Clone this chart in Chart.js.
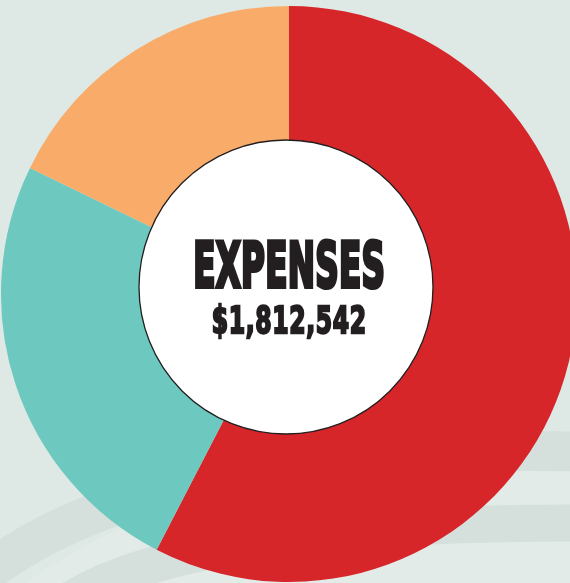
<!DOCTYPE html>
<html>
<head>
<meta charset="utf-8">
<script src="https://cdn.jsdelivr.net/npm/chart.js@4.4.1/dist/chart.umd.min.js"></script>
<style>
  html, body { margin: 0; padding: 0; width: 570px; height: 583px; overflow: hidden; background: #dee8e5; }
  #wrap { position: absolute; left: 0; top: 0; width: 580px; height: 583px; }
</style>
</head>
<body>
<div id="wrap"><canvas id="c"></canvas></div>
<script>
// Data (share of total expenses, %)
const categories = ['Segment A', 'Segment B', 'Segment C'];
const shares = [57.6, 24.6, 17.8];
const colors = ['#d7262a', '#6dc9bf', '#f9ac6a'];
const titleText = 'EXPENSES';
const totalText = '$1,812,542';

const bgPlugin = {
  id: 'bg',
  beforeDraw(chart) {
    const ctx = chart.ctx;
    ctx.save();
    ctx.fillStyle = '#dee8e5';
    ctx.fillRect(0, 0, chart.width, chart.height);
    ctx.fillStyle = '#e2ebe8';
    ctx.beginPath();
    ctx.moveTo(-40, 640);
    ctx.quadraticCurveTo(150, 440, 620, 449);
    ctx.lineTo(620, 640);
    ctx.closePath();
    ctx.fill();
    ctx.strokeStyle = '#d5dfdb';
    ctx.lineCap = 'butt';
    ctx.lineWidth = 40;
    ctx.beginPath();
    ctx.moveTo(-20, 578);
    ctx.quadraticCurveTo(150, 440, 600, 452);
    ctx.stroke();
    ctx.lineWidth = 37;
    ctx.beginPath();
    ctx.moveTo(70, 600);
    ctx.quadraticCurveTo(200, 520, 600, 523);
    ctx.stroke();
    ctx.restore();
  }
};

// Draw text char by char, each glyph squeezed horizontally, with a fixed gap
function drawSpaced(ctx, text, font, cx, baseline, targetW, gap, extra, color) {
  ctx.save();
  ctx.font = font;
  const chars = Array.from(text);
  const widths = chars.map(ch => ctx.measureText(ch).width + extra);
  const sum = widths.reduce((a, b) => a + b, 0);
  const sx = (targetW - gap * (chars.length - 1)) / sum;
  let x = cx - targetW / 2;
  ctx.fillStyle = color;
  ctx.strokeStyle = color;
  ctx.lineWidth = extra;
  ctx.lineJoin = 'miter';
  ctx.textAlign = 'left';
  ctx.textBaseline = 'alphabetic';
  chars.forEach((ch, i) => {
    ctx.save();
    ctx.translate(x, baseline);
    ctx.scale(sx, 1);
    ctx.fillText(ch, extra / 2, 0);
    if (extra > 0) ctx.strokeText(ch, extra / 2, 0);
    ctx.restore();
    x += widths[i] * sx + gap;
  });
  ctx.restore();
}

const centerPlugin = {
  id: 'center',
  afterDatasetsDraw(chart) {
    const arc = chart.getDatasetMeta(0).data[0];
    const ctx = chart.ctx;
    const cx = arc.x - 3, cy = arc.y - 7;
    ctx.save();
    ctx.beginPath();
    ctx.arc(cx, cy, 147, 0, Math.PI * 2);
    ctx.fillStyle = '#ffffff';
    ctx.fill();
    ctx.lineWidth = 1.3;
    ctx.strokeStyle = '#231f20';
    ctx.stroke();
    ctx.restore();
    drawSpaced(ctx, titleText, 'bold 63px "Liberation Sans Narrow", "DejaVu Sans Condensed", "Liberation Sans"', arc.x, 287, 194, -2, 4, '#231f20');
    drawSpaced(ctx, totalText, 'bold 37px "Liberation Sans Narrow", "DejaVu Sans Condensed", "Liberation Sans"', arc.x, 332.5, 156, -1, 2.3, '#231f20');
  }
};

new Chart(document.getElementById('c'), {
  type: 'doughnut',
  data: {
    labels: categories,
    datasets: [{
      data: shares,
      backgroundColor: colors,
      borderWidth: 0,
      hoverOffset: 0
    }]
  },
  options: {
    responsive: true,
    maintainAspectRatio: false,
    animation: false,
    cutout: '48%',
    rotation: 0,
    layout: { padding: { left: 1, top: 6, right: 3, bottom: 1 } },
    plugins: {
      legend: { display: false },
      tooltip: { enabled: false }
    }
  },
  plugins: [bgPlugin, centerPlugin]
});
</script>
</body>
</html>
